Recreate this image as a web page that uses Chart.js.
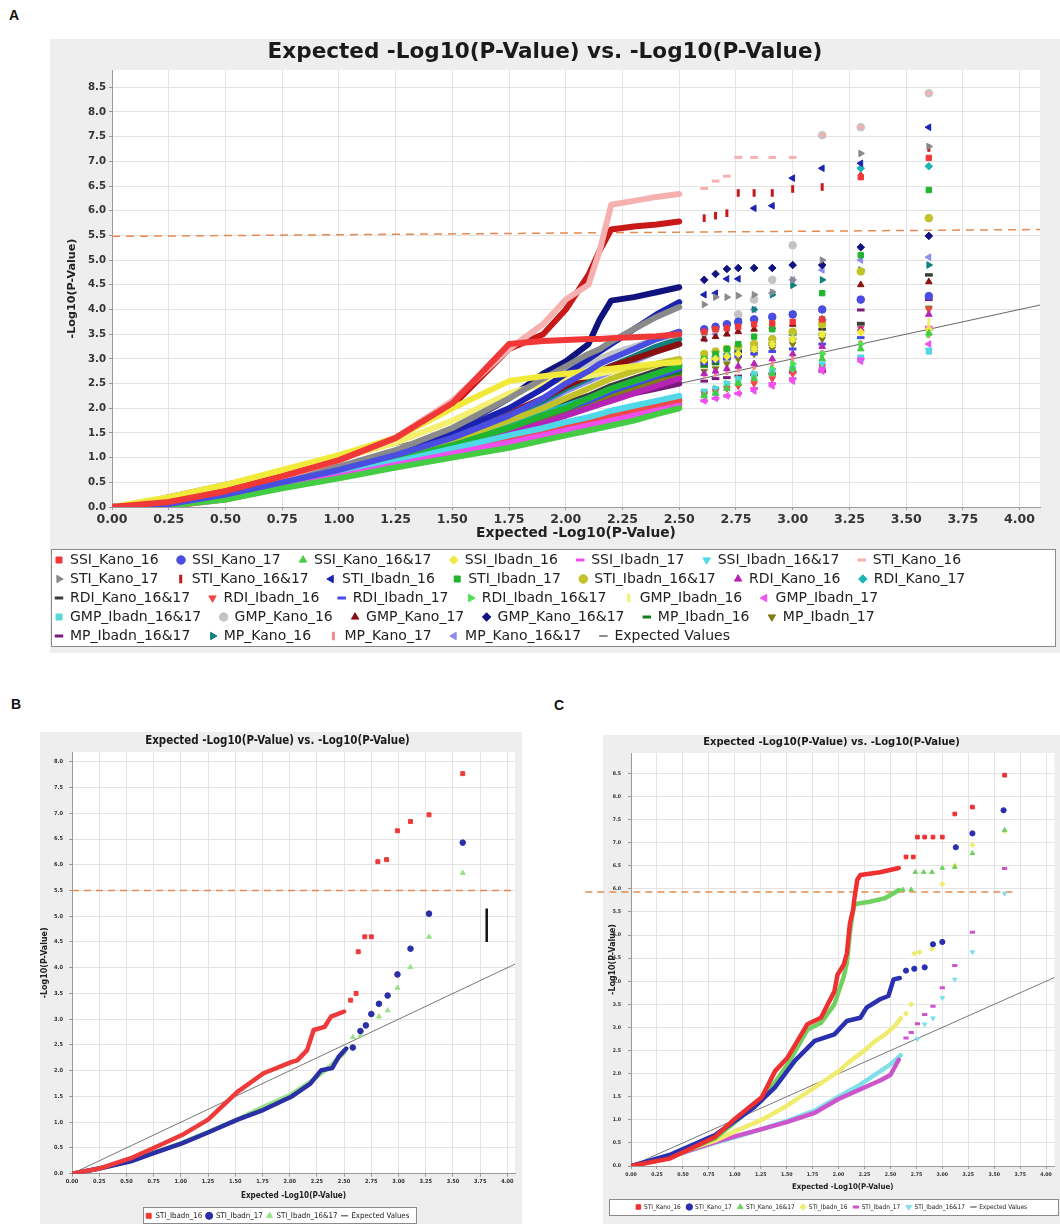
<!DOCTYPE html>
<html>
<head>
<meta charset="utf-8">
<script src="https://cdn.jsdelivr.net/npm/chart.js@4.4.1/dist/chart.umd.min.js"></script>
<style>
  body { margin: 0; width: 1060px; height: 1224px; overflow: hidden; position: relative; background: #fff; }
  .tag { position: absolute; font: bold 14px 'Liberation Sans', Arial, sans-serif; color: #111; }
  .box { position: absolute; }
</style>
</head>
<body>
<div class="tag" style="left:9px;top:7px">A</div>
<div class="tag" style="left:11px;top:696px">B</div>
<div class="tag" style="left:554px;top:697px">C</div>
<div class="box" style="left:50px;top:39px;width:1010px;height:614px"><canvas id="chartA"></canvas></div>
<div class="box" style="left:40px;top:732px;width:482px;height:500px"><canvas id="chartB"></canvas></div>
<div class="box" style="left:580px;top:735px;width:480px;height:490px"><canvas id="chartC"></canvas></div>
<script>
// ---------- panel A : all 30 traits ----------
// expected -log10(p) positions (dense part, then the single top SNPs)
const qqXA = [0, 0.25, 0.5, 0.75, 1.0, 1.25, 1.5, 1.75, 1.9, 2.0, 2.1, 2.15, 2.2, 2.3, 2.4, 2.5,
              2.61, 2.66, 2.71, 2.76, 2.83, 2.91, 3.0, 3.13, 3.3, 3.6];

const ssiKano16     = [0,0.1,0.32,0.62,0.95,1.4,2.1,3.3,3.36,3.38,3.4,3.4,3.42,3.44,3.46,3.5, 3.55,3.6,3.62,3.65,3.7,3.72,3.75,3.8,6.68,7.07];
const ssiKano17     = [0,0.06,0.25,0.5,0.75,1.05,1.4,1.85,2.2,2.5,2.75,2.9,3.0,3.2,3.4,3.55, 3.6,3.65,3.7,3.75,3.8,3.85,3.9,4.0,4.2,4.27];
const ssiKano1617   = [0,0.03,0.15,0.38,0.58,0.8,1.0,1.2,1.35,1.45,1.55,1.6,1.65,1.75,1.88,2.0, 2.25,2.3,2.4,2.5,2.6,2.7,2.8,3.0,3.2,3.52];
const ssiIbadn16    = [0,0.2,0.45,0.75,1.05,1.4,2.0,2.55,2.65,2.7,2.75,2.78,2.8,2.85,2.9,2.93, 2.97,3.0,3.05,3.1,3.2,3.3,3.4,3.5,3.54,3.6];
const ssiIbadn17    = [0,0.04,0.2,0.42,0.62,0.85,1.08,1.3,1.45,1.55,1.65,1.7,1.75,1.85,1.95,2.05, 2.15,2.2,2.25,2.3,2.4,2.5,2.6,2.8,3.0,3.64];
const ssiIbadn1617  = [0,0.05,0.22,0.45,0.68,0.92,1.18,1.45,1.6,1.72,1.82,1.88,1.95,2.05,2.15,2.25, 2.35,2.4,2.5,2.6,2.7,2.75,2.8,2.9,3.04,3.18];
const stiKano16     = [0,0.1,0.3,0.6,0.95,1.4,2.15,3.2,3.7,4.2,4.5,5.2,6.12,6.2,6.28,6.34, 6.45,6.6,6.7,7.08,7.08,7.08,7.08,7.53,7.69,8.38];
const stiKano17     = [0,0.08,0.28,0.55,0.82,1.15,1.6,2.2,2.6,2.85,3.1,3.2,3.35,3.6,3.85,4.05, 4.1,4.25,4.25,4.28,4.3,4.35,4.6,5.0,7.16,7.3];
const stiKano1617   = [0,0.1,0.32,0.62,0.95,1.4,2.05,3.2,3.5,4.0,4.7,5.2,5.62,5.68,5.72,5.78, 5.85,5.9,5.95,6.36,6.36,6.36,6.44,6.48,6.7,7.27];
const stiIbadn16    = [0,0.07,0.26,0.5,0.78,1.1,1.5,2.0,2.4,2.7,3.0,3.15,3.3,3.6,3.9,4.15, 4.3,4.33,4.62,4.62,6.05,6.1,6.66,6.86,6.96,7.69];
const stiIbadn17    = [0,0.04,0.2,0.45,0.68,0.95,1.25,1.6,1.85,2.0,2.2,2.3,2.4,2.55,2.7,2.85, 3.0,3.1,3.2,3.3,3.45,3.6,3.9,4.33,5.1,6.42];
const stiIbadn1617  = [0,0.06,0.25,0.5,0.75,1.02,1.35,1.75,2.0,2.2,2.4,2.5,2.6,2.75,2.9,3.0, 3.1,3.15,3.2,3.25,3.3,3.4,3.55,3.7,4.77,5.85];
const rdiKano16     = [0,0.05,0.22,0.46,0.7,0.95,1.22,1.5,1.7,1.85,2.0,2.08,2.15,2.3,2.45,2.6, 2.7,2.75,2.8,2.85,2.9,3.0,3.1,3.25,3.6,3.9];
const rdiKano17     = [0,0.05,0.23,0.48,0.72,1.0,1.3,1.65,1.9,2.05,2.2,2.3,2.4,2.55,2.7,2.85, 3.0,3.05,3.1,3.2,3.3,3.4,3.5,3.8,6.86,6.9];
const rdiKano1617   = [0,0.05,0.22,0.45,0.7,0.98,1.3,1.7,1.95,2.1,2.25,2.35,2.45,2.6,2.75,2.9, 2.95,3.0,3.05,3.15,3.2,3.3,3.5,3.6,3.72,4.7];
const rdiIbadn16    = [0,0.02,0.15,0.4,0.62,0.88,1.12,1.35,1.48,1.6,1.7,1.78,1.85,1.95,2.05,2.15, 2.3,2.35,2.4,2.45,2.5,2.6,2.7,2.85,3.62,4.0];
const rdiIbadn17    = [0,0.05,0.22,0.45,0.7,0.95,1.25,1.6,1.85,2.0,2.15,2.25,2.35,2.5,2.65,2.8, 2.9,2.95,3.0,3.05,3.1,3.15,3.2,3.3,3.43,3.6];
const rdiIbadn1617  = [0,0.03,0.17,0.4,0.62,0.85,1.08,1.3,1.45,1.58,1.7,1.75,1.82,1.95,2.05,2.15, 2.3,2.4,2.5,2.6,2.7,2.8,2.9,3.1,3.3,3.5];
const gmpIbadn16    = [0,0.12,0.4,0.7,0.98,1.3,1.75,2.3,2.5,2.6,2.65,2.7,2.75,2.8,2.85,2.9, 2.95,3.0,3.05,3.1,3.2,3.3,3.4,3.5,3.54,3.75];
const gmpIbadn17    = [0,0.04,0.18,0.4,0.6,0.82,1.05,1.28,1.42,1.52,1.62,1.68,1.74,1.85,1.98,2.08, 2.15,2.2,2.25,2.3,2.35,2.45,2.55,2.75,2.95,3.3];
const gmpIbadn1617  = [0,0.05,0.2,0.44,0.66,0.9,1.15,1.4,1.55,1.65,1.75,1.8,1.85,1.95,2.1,2.2, 2.3,2.35,2.45,2.55,2.65,2.75,2.8,2.85,3.0,3.15];
const gmpKano16     = [0,0.07,0.27,0.53,0.8,1.1,1.5,2.0,2.4,2.7,2.9,3.0,3.1,3.25,3.4,3.5, 3.55,3.6,3.7,3.9,4.2,4.6,5.3,7.53,7.69,8.38];
const gmpKano17     = [0,0.06,0.25,0.5,0.76,1.05,1.4,1.9,2.2,2.45,2.65,2.75,2.85,3.0,3.15,3.3, 3.4,3.45,3.5,3.55,3.6,3.65,3.7,3.8,4.5,4.56];
const gmpKano1617   = [0,0.07,0.27,0.52,0.8,1.1,1.55,2.2,2.7,2.95,3.3,3.8,4.18,4.25,4.35,4.45, 4.6,4.72,4.82,4.84,4.84,4.84,4.9,4.9,5.26,5.49];
const mpIbadn16     = [0,0.05,0.2,0.44,0.68,0.95,1.25,1.6,1.85,2.0,2.15,2.25,2.35,2.5,2.65,2.75, 2.85,2.9,3.0,3.1,3.2,3.3,3.4,3.5,3.7,4.7];
const mpIbadn17     = [0,0.05,0.22,0.46,0.7,0.96,1.26,1.6,1.82,1.98,2.12,2.2,2.28,2.42,2.55,2.68, 2.75,2.8,2.9,3.0,3.1,3.2,3.3,3.4,3.55,4.03];
const mpIbadn1617   = [0,0.04,0.2,0.42,0.65,0.9,1.2,1.55,1.75,1.9,2.05,2.12,2.2,2.3,2.4,2.5, 2.55,2.6,2.62,2.65,2.68,2.7,2.73,2.75,3.99,4.2];
const mpKano16      = [0,0.06,0.25,0.5,0.76,1.05,1.4,1.85,2.15,2.4,2.6,2.75,2.85,3.05,3.25,3.4, 3.5,3.6,3.7,3.8,4.0,4.3,4.49,4.6,4.8,4.9];
const mpKano17      = [0,0.04,0.2,0.43,0.66,0.92,1.2,1.55,1.8,1.95,2.1,2.2,2.3,2.4,2.5,2.6, 2.7,2.72,2.75,2.8,2.85,2.9,3.0,3.1,3.3,3.5];
const mpKano1617    = [0,0.06,0.25,0.5,0.76,1.04,1.38,1.8,2.1,2.35,2.55,2.65,2.75,2.95,3.15,3.3, 3.4,3.5,3.6,3.7,4.0,4.33,4.6,4.8,5.0,5.06];

const namesA = ['SSI_Kano_16','SSI_Kano_17','SSI_Kano_16&17','SSI_Ibadn_16','SSI_Ibadn_17','SSI_Ibadn_16&17','STI_Kano_16',
  'STI_Kano_17','STI_Kano_16&17','STI_Ibadn_16','STI_Ibadn_17','STI_Ibadn_16&17','RDI_Kano_16','RDI_Kano_17',
  'RDI_Kano_16&17','RDI_Ibadn_16','RDI_Ibadn_17','RDI_Ibadn_16&17','GMP_Ibadn_16','GMP_Ibadn_17',
  'GMP_Ibadn_16&17','GMP_Kano_16','GMP_Kano_17','GMP_Kano_16&17','MP_Ibadn_16','MP_Ibadn_17',
  'MP_Ibadn_16&17','MP_Kano_16','MP_Kano_17','MP_Kano_16&17'];
const valuesA = [ssiKano16, ssiKano17, ssiKano1617, ssiIbadn16, ssiIbadn17, ssiIbadn1617, stiKano16,
  stiKano17, stiKano1617, stiIbadn16, stiIbadn17, stiIbadn1617, rdiKano16, rdiKano17,
  rdiKano1617, rdiIbadn16, rdiIbadn17, rdiIbadn1617, gmpIbadn16, gmpIbadn17,
  gmpIbadn1617, gmpKano16, gmpKano17, gmpKano1617, mpIbadn16, mpIbadn17,
  mpIbadn1617, mpKano16, mpKano17, mpKano1617];
const colorsA = ['#f03838','#4a4ee0','#44cc44','#f2ea3a','#ee4fee','#4fd8e8','#f6b0b0',
  '#8a8a8a','#c81818','#1c22b0','#1fb52f','#c2c22a','#b624b6','#1cb5b5',
  '#3c3c3c','#f24848','#4848f0','#4ee04e','#f6f070','#f050f0',
  '#58d8d8','#c4c4c4','#8a1010','#10127e','#0e7e1a','#7e7e14',
  '#7a1a7a','#10807e','#f48888','#8c8cf0'];

const thresholdA = [[0, 5.48], [4.09, 5.62]];
const expectedLine = [[0, 0], [4.2, 4.2]];

// ---------- panel B : STI, Ibadan ----------
const stiIbadn16B = [[0,0],[0.25,0.1],[0.54,0.3],[0.75,0.5],[1.01,0.75],[1.25,1.05],[1.52,1.59],[1.76,1.95],[2.02,2.17],
  [2.07,2.2],[2.16,2.4],[2.22,2.79],[2.32,2.85],[2.38,3.05],[2.5,3.15],[2.56,3.37],[2.61,3.5],[2.63,4.31],[2.69,4.6],
  [2.75,4.6],[2.81,6.06],[2.89,6.1],[2.99,6.66],[3.11,6.84],[3.28,6.97],[3.59,7.77]];
const stiIbadn17B = [[0,0],[0.25,0.1],[0.54,0.24],[0.75,0.4],[1.01,0.59],[1.25,0.8],[1.52,1.05],[1.76,1.24],[1.95,1.43],
  [2.02,1.5],[2.19,1.75],[2.29,2.01],[2.39,2.05],[2.45,2.27],[2.52,2.43],[2.58,2.45],[2.65,2.77],[2.7,2.88],[2.75,3.1],
  [2.82,3.3],[2.9,3.46],[2.99,3.87],[3.11,4.37],[3.28,5.05],[3.59,6.43]];
const stiIbadn1617B = [[0,0],[0.25,0.1],[0.54,0.25],[1.01,0.6],[1.52,1.05],[1.76,1.3],[2.0,1.52],[2.2,1.8],[2.38,2.1],
  [2.5,2.35],[2.58,2.65],[2.65,2.69],[2.82,3.05],[2.9,3.17],[2.99,3.61],[3.11,4.01],[3.28,4.6],[3.59,5.84]];
const namesB = ['STI_Ibadn_16', 'STI_Ibadn_17', 'STI_Ibadn_16&17'];
const valuesB = [stiIbadn16B, stiIbadn17B, stiIbadn1617B];
const colorsB = ['#ee3a3a', '#2b2fa6', '#9be08a'];
const thresholdB = [[0, 5.5], [4.2, 5.5]];
const barB = [[3.81, 4.5], [3.81, 5.15]];

// ---------- panel C : STI, Kano + Ibadan ----------
const stiKano16C = [[0,0],[0.37,0.16],[0.6,0.4],[0.81,0.63],[1.0,1.02],[1.26,1.49],[1.39,2.06],[1.51,2.35],[1.7,3.07],
  [1.83,3.21],[1.96,3.78],[1.99,4.14],[2.05,4.36],[2.08,4.6],[2.11,5.26],[2.14,5.54],[2.15,5.75],[2.18,6.19],[2.21,6.3],
  [2.4,6.36],[2.58,6.45],[2.65,6.69],[2.72,6.69],[2.76,7.12],[2.83,7.12],[2.91,7.12],[3.0,7.12],[3.12,7.62],[3.29,7.77],[3.6,8.46]];
const stiKano17C = [[0,0],[0.37,0.24],[0.81,0.67],[1.19,1.28],[1.39,1.71],[1.58,2.28],[1.77,2.71],[1.96,2.85],[2.08,3.14],
  [2.21,3.21],[2.27,3.43],[2.4,3.61],[2.48,3.68],[2.53,4.04],[2.59,4.07],[2.65,4.23],[2.73,4.27],[2.83,4.3],[2.91,4.8],
  [3.0,4.85],[3.13,6.9],[3.29,7.2],[3.59,7.7]];
const stiKano1617C = [[0,0],[0.37,0.18],[0.81,0.6],[1.0,0.95],[1.26,1.42],[1.4,1.85],[1.51,2.2],[1.7,2.95],[1.83,3.1],
  [1.96,3.5],[2.05,4.1],[2.08,4.4],[2.11,5.06],[2.14,5.54],[2.16,5.67],[2.3,5.72],[2.45,5.8],[2.58,5.97],[2.62,5.98],
  [2.7,5.98],[2.74,6.36],[2.82,6.36],[2.9,6.36],[3.0,6.45],[3.12,6.47],[3.29,6.77],[3.6,7.27]];
const stiIbadn16C = [[0,0],[0.37,0.22],[0.81,0.55],[1.0,0.75],[1.26,1.0],[1.5,1.3],[1.77,1.7],[2.0,2.05],[2.1,2.25],
  [2.25,2.5],[2.35,2.7],[2.45,2.85],[2.55,3.05],[2.6,3.2],[2.65,3.3],[2.7,3.5],[2.73,4.6],[2.78,4.63],[2.9,4.7],
  [3.0,6.1],[3.12,6.5],[3.29,6.95],[3.6,7.25]];
const stiIbadn17C = [[0,0],[0.37,0.2],[0.81,0.52],[1.0,0.64],[1.26,0.8],[1.5,0.95],[1.77,1.15],[2.0,1.45],[2.2,1.65],
  [2.4,1.85],[2.5,1.97],[2.58,2.3],[2.65,2.77],[2.7,2.89],[2.76,3.08],[2.83,3.28],[2.91,3.46],[3.0,3.86],[3.12,4.34],
  [3.29,5.06],[3.6,6.44]];
const stiIbadn1617C = [[0,0],[0.37,0.2],[0.81,0.5],[1.0,0.62],[1.26,0.8],[1.5,0.97],[1.77,1.2],[2.0,1.5],[2.2,1.75],
  [2.4,2.05],[2.5,2.2],[2.6,2.4],[2.76,2.75],[2.83,3.07],[2.91,3.2],[3.0,3.64],[3.12,4.04],[3.29,4.63],[3.6,5.9]];
const namesC = ['STI_Kano_16','STI_Kano_17','STI_Kano_16&17','STI_Ibadn_16','STI_Ibadn_17','STI_Ibadn_16&17'];
const valuesC = [stiKano16C, stiKano17C, stiKano1617C, stiIbadn16C, stiIbadn17C, stiIbadn1617C];
const colorsC = ['#ee3030', '#2a30b0', '#70d060', '#f0ec70', '#cc55cc', '#80e0e8'];
const thresholdC = [[-0.44, 5.93], [3.68, 5.93]];

// ---------- drawing ----------
const TITLE = 'Expected -Log10(P-Value) vs. -Log10(P-Value)';
const XTITLE = 'Expected -Log10(P-Value)';
const YTITLE = '-Log10(P-Value)';
const WIDE = "'DejaVu Sans', 'Liberation Sans', sans-serif";
const NARROW = "'Liberation Sans Narrow', 'DejaVu Sans Condensed', 'Liberation Sans', sans-serif";

// the jfreechart shape sequence
const shapes = [
  {s: 'rect', r: 0, w: 1}, {s: 'circle', r: 0, w: 1}, {s: 'triangle', r: 0, w: 1}, {s: 'rectRot', r: 0, w: 1},
  {s: 'line', r: 0, w: 3}, {s: 'triangle', r: 180, w: 1}, {s: 'line', r: 0, w: 3}, {s: 'triangle', r: 90, w: 1},
  {s: 'line', r: 90, w: 3}, {s: 'triangle', r: 270, w: 1}
];

const measure = document.createElement('canvas').getContext('2d');
const fitSize = (text, family, weight, width) => {
  measure.font = weight + ' 100px ' + family;
  return 100 * width / measure.measureText(text).width;
};

// dense part as a thick line, single SNPs beyond `cut` as markers
const qqSet = (label, pts, color, shape, cut, lineW, rad) => ({
  label,
  data: pts.map(p => ({x: p[0], y: p[1]})),
  showLine: true,
  borderColor: color, backgroundColor: color, borderWidth: lineW,
  borderJoinStyle: 'round', borderCapStyle: 'round',
  pointStyle: shape.s, pointRotation: shape.r, pointBorderWidth: shape.w,
  pointBackgroundColor: color, pointBorderColor: color,
  pointRadius: c => (c.raw && c.raw.x > cut) ? rad : 0,
  pointHoverRadius: 0,
  segment: {borderColor: c => c.p1.parsed.x > cut ? 'rgba(0,0,0,0)' : undefined}
});
const plainLine = (label, pts, color, width, dash, extra) => Object.assign({
  label,
  data: pts.map(p => ({x: p[0], y: p[1]})),
  showLine: true, borderColor: color, backgroundColor: color, borderWidth: width,
  borderDash: dash || [], pointRadius: 0, pointHoverRadius: 0,
  pointStyle: 'line', pointBorderColor: color, pointBorderWidth: 1.5
}, extra || {});

const panelPlugin = {
  id: 'panel',
  beforeDraw(chart, args, o) {
    const {ctx, chartArea: a} = chart;
    ctx.save();
    ctx.fillStyle = '#eeeeee';
    ctx.fillRect(o.bg[0], o.bg[1], o.bg[2], o.bg[3]);
    ctx.fillStyle = '#ffffff';
    ctx.fillRect(a.left, a.top, a.right - a.left, a.bottom - a.top);
    ctx.fillRect(o.box[0], o.box[1], o.box[2] - o.box[0], o.box[3] - o.box[1]);
    ctx.restore();
  },
  afterDraw(chart, args, o) {
    const ctx = chart.ctx;
    ctx.save();
    ctx.strokeStyle = '#8a8a8a';
    ctx.lineWidth = 1;
    ctx.strokeRect(o.box[0] + 0.5, o.box[1] + 0.5, o.box[2] - o.box[0], o.box[3] - o.box[1]);
    ctx.restore();
  }
};

const axis = o => ({
  type: 'linear', position: o.pos, min: 0, max: o.max,
  ticks: {stepSize: o.step, includeBounds: false, autoSkip: false, maxRotation: 0,
    callback: v => v.toFixed(o.dec), color: '#333', padding: o.tickPad,
    font: {family: o.family, size: o.tickSize, weight: 'bold'}},
  grid: {color: '#e4e4e4', tickLength: 3, tickColor: '#999'},
  border: {color: '#9a9a9a'},
  title: {display: true, text: o.title, color: '#222',
    font: {family: o.family, size: o.titleSize, weight: 'bold'},
    padding: o.pos === 'bottom' ? {top: 0, bottom: o.titleOff - 0.6 * o.titleSize}
                                : {top: o.titleOff - 0.6 * o.titleSize, bottom: 0}},
  afterFit: s => { if (o.pos === 'bottom') s.height = o.size; else s.width = o.size; }
});

const legendOpts = (family, size, pad, boxW, boxH, tail, align) => ({
  position: 'bottom', align,
  labels: {usePointStyle: true, boxWidth: boxW, boxHeight: boxH, padding: pad, color: '#222',
    font: {family, size},
    generateLabels: chart => Chart.defaults.plugins.legend.labels.generateLabels(chart)
      .filter(l => l.text).map(l => Object.assign(l, {text: l.text + tail}))}
});

const titleOpts = (family, size, center, top) => ({
  display: true, text: TITLE, color: '#1a1a1a',
  font: {family, size, weight: 'bold'},
  padding: {top: Math.max(0, center - 0.6 * size), bottom: top - Math.max(0, center - 0.6 * size) - 1.2 * size}
});

// ---- A
const dsA = namesA.map((n, i) => qqSet(n, qqXA.map((x, j) => [x, valuesA[i][j]]), colorsA[i], shapes[i % 10], 2.55, 6, 3.8));
dsA.push(plainLine('Expected Values', expectedLine, '#666', 1));
dsA.push(plainLine('', thresholdA, '#e38b52', 1.5, [8, 6]));

new Chart(document.getElementById('chartA'), {
  type: 'scatter',
  data: {datasets: dsA},
  options: {
    responsive: true, maintainAspectRatio: false, animation: false, events: [],
    layout: {padding: {left: 0, right: 20, top: 0, bottom: 0}},
    plugins: {
      title: titleOpts(WIDE, fitSize(TITLE, WIDE, 'bold', 555), 13, 31),
      legend: legendOpts(WIDE, 14, 5, 8, 6, '   ', 'start'),
      tooltip: {enabled: false},
      panel: {bg: [0, 0, 1010, 614], box: [1, 510, 1005, 607]}
    },
    scales: {
      x: axis({pos: 'bottom', max: 4.09, step: 0.25, dec: 2, family: WIDE, tickPad: 2,
        tickSize: fitSize('0.00', WIDE, 'bold', 31), title: XTITLE,
        titleSize: fitSize(XTITLE, WIDE, 'bold', 200), titleOff: 15, size: 41}),
      y: axis({pos: 'left', max: 8.85, step: 0.5, dec: 1, family: WIDE, tickPad: 3,
        tickSize: fitSize('8.5', WIDE, 'bold', 18), title: YTITLE,
        titleSize: fitSize(YTITLE, WIDE, 'bold', 100), titleOff: 22, size: 62})
    }
  },
  plugins: [panelPlugin]
});

// ---- B
const shapesBC = [shapes[0], shapes[1], shapes[2], shapes[3], shapes[4], shapes[5]];
const dsB = namesB.map((n, i) => qqSet(n, valuesB[i], colorsB[i], shapesBC[i], 2.55, 4.5, 2.8));
dsB.push(plainLine('Expected Values', expectedLine, '#777', 1));
dsB.push(plainLine('', barB, '#111', 2.5));
dsB.push(plainLine('', thresholdB, '#e38b52', 1.5, [7, 5]));

new Chart(document.getElementById('chartB'), {
  type: 'scatter',
  data: {datasets: dsB},
  options: {
    responsive: true, maintainAspectRatio: false, animation: false, events: [],
    layout: {padding: {left: 0, right: 7, top: 0, bottom: 2.25}},
    plugins: {
      title: titleOpts(NARROW, fitSize(TITLE, NARROW, 'bold', 265), 9, 20),
      legend: legendOpts(NARROW, fitSize('Expected Values', NARROW, 'normal', 58), 4, 6, 5, '', 'center'),
      tooltip: {enabled: false},
      panel: {bg: [0, 0, 482, 500], box: [103, 475, 376, 491]}
    },
    scales: {
      x: axis({pos: 'bottom', max: 4.07, step: 0.25, dec: 2, family: NARROW, tickPad: 1,
        tickSize: fitSize('0.00', NARROW, 'bold', 12.5), title: XTITLE,
        titleSize: fitSize(XTITLE, NARROW, 'normal', 93), titleOff: 12.25, size: 34.25}),
      y: axis({pos: 'left', max: 8.19, step: 0.5, dec: 1, family: NARROW, tickPad: 6,
        tickSize: fitSize('0.00', NARROW, 'bold', 12.5), title: YTITLE,
        titleSize: fitSize(YTITLE, NARROW, 'normal', 62), titleOff: 5, size: 32})
    }
  },
  plugins: [panelPlugin]
});

// ---- C
const dsC = namesC.map((n, i) => qqSet(n, valuesC[i], colorsC[i], shapesBC[i], 2.6, 4.5, 2.6));
dsC.push(plainLine('Expected Values', expectedLine, '#777', 1));
dsC.push(plainLine('', thresholdC, '#e38b52', 1.5, [7, 5], {clip: false}));

new Chart(document.getElementById('chartC'), {
  type: 'scatter',
  data: {datasets: dsC},
  options: {
    responsive: true, maintainAspectRatio: false, animation: false, events: [],
    layout: {padding: {left: 23, right: 0, top: 0, bottom: 4.75}},
    plugins: {
      title: titleOpts(NARROW, fitSize(TITLE, NARROW, 'bold', 257), 7, 18),
      legend: legendOpts(NARROW, fitSize('Expected Values', NARROW, 'normal', 48), 6, 5, 4.5, '', 'center'),
      tooltip: {enabled: false},
      panel: {bg: [23, 0, 457, 490], box: [29, 464, 478, 480]}
    },
    scales: {
      x: axis({pos: 'bottom', max: 4.08, step: 0.25, dec: 2, family: NARROW, tickPad: 2.5,
        tickSize: fitSize('0.00', NARROW, 'bold', 11.5), title: XTITLE,
        titleSize: fitSize(XTITLE, NARROW, 'normal', 90), titleOff: 10.75, size: 31.75}),
      y: axis({pos: 'left', max: 8.94, step: 0.5, dec: 1, family: NARROW, tickPad: 7,
        tickSize: fitSize('0.00', NARROW, 'bold', 11.5), title: YTITLE,
        titleSize: fitSize(YTITLE, NARROW, 'normal', 62), titleOff: 10, size: 28})
    }
  },
  plugins: [panelPlugin]
});
</script>
</body>
</html>
